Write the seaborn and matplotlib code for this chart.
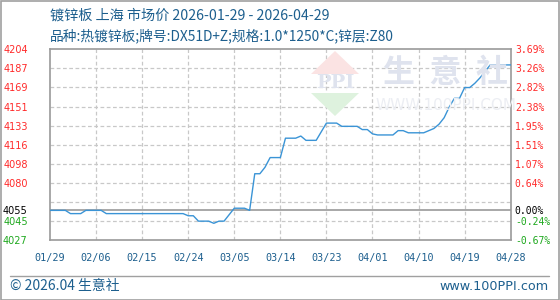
import numpy as np
import pandas as pd
import matplotlib
matplotlib.use("Agg")
import matplotlib.pyplot as plt
import seaborn as sns
from matplotlib.patches import Polygon, Rectangle
from matplotlib.lines import Line2D

# ---------------- data ----------------
# daily price index (day 0 = 2026-01-29 ... day 90 = 2026-04-29)
prices = [
    4055, 4055, 4055, 4055, 4052, 4052, 4052, 4055, 4055, 4055,   # 0-9
    4055, 4052, 4052, 4052, 4052, 4052, 4052, 4052, 4052, 4052,   # 10-19
    4052, 4052, 4052, 4052, 4052, 4052, 4052, 4050, 4050, 4045,   # 20-29
    4045, 4045, 4043, 4045, 4045, 4051, 4057, 4057, 4057, 4055,   # 30-39
    4089, 4089, 4095, 4104, 4104, 4104, 4122, 4122, 4122, 4124,   # 40-49
    4120, 4120, 4120, 4128, 4136, 4136, 4136, 4133, 4133, 4133,   # 50-59
    4133, 4130, 4130, 4126, 4125, 4125, 4125, 4125, 4129, 4129,   # 60-69
    4127, 4127, 4127, 4127, 4129, 4131, 4135, 4141, 4151, 4159,   # 70-79
    4159, 4169, 4169, 4173, 4178, 4184, 4190, 4190, 4190, 4190,   # 80-89
    4190,                                                         # 90
]
days = list(range(len(prices)))

x_tick_days = [0, 9, 18, 27, 36, 45, 54, 63, 72, 81, 90]
x_tick_labels = ["01/29", "02/06", "02/15", "02/24", "03/05", "03/14",
                 "03/23", "04/01", "04/10", "04/19", "04/28"]

base_price = 4055
y_low, y_high = 4027.5, 4204.5
left_labels = ["4027", "4045", "", "4080", "4098", "4116", "4133",
               "4151", "4169", "4187", "4204"]
right_labels = ["-0.67%", "-0.24%", "", "0.64%", "1.07%", "1.51%", "1.95%",
                "2.38%", "2.82%", "3.26%", "3.69%"]
base_left_label = "4055"
base_right_label = "0.00%"

title1 = "镀锌板 上海 市场价 2026-01-29 - 2026-04-29"
title2 = "品种:热镀锌板;牌号:DX51D+Z;规格:1.0*1250*C;锌层:Z80"
footer_left = "© 2026.04 生意社"
footer_right = "www.100PPI.com"

df = pd.DataFrame({"day": days, "price": prices})

# ---------------- styling ----------------
sns.set_theme(style="white")
plt.rcParams["font.family"] = ["Noto Sans CJK SC", "DejaVu Sans"]

W, H = 560, 300
fig = plt.figure(figsize=(W / 100, H / 100), dpi=100)
fig.patch.set_facecolor("white")

ax_l, ax_r, ax_t, ax_b = 50, 510.7, 49.3, 240
ax = fig.add_axes([ax_l / W, 1 - ax_b / H, (ax_r - ax_l) / W, (ax_b - ax_t) / H])
ax.set_facecolor("none")

TEXT_BLUE = "#1d5f8e"
RED = "#ff2a2a"
GREEN = "#1ea81e"
GRID = "#c8c8c8"
FRAME = "#9a9a9a"
LINE = "#3a94d6"

def fx(px):
    return px / W
def fy(py):
    return 1 - py / H

# ---------------- watermark (behind data) ----------------
wm_kw = dict(transform=fig.transFigure, zorder=0)
fig.patches.append(Polygon([(fx(311), fy(74)), (fx(335), fy(51)), (fx(359), fy(74))],
                           closed=True, facecolor="#fbe3e3", edgecolor="none", **wm_kw))
fig.patches.append(Polygon([(fx(311), fy(93)), (fx(335), fy(116)), (fx(359), fy(93))],
                           closed=True, facecolor="#def2de", edgecolor="none", **wm_kw))
fig.text(fx(335), fy(83), "PPI", ha="center", va="center", fontsize=14,
         fontweight="bold", color="#dfe3ee", family=["DejaVu Serif"], zorder=0)
fig.text(fx(446), fy(73), "生  意  社", ha="center", va="center", fontsize=23,
         fontweight="bold", color="#dfe3ee", zorder=0)
fig.text(fx(446), fy(106), "WWW.100PPI.COM", ha="center", va="center", fontsize=11,
         color="#eceef3", family=["DejaVu Sans"], zorder=0)

# ---------------- grid ----------------
grid_vals = np.linspace(y_low, y_high, 11)
ax.set_xlim(0, 90)
ax.set_ylim(y_low, y_high)
for gv in grid_vals[1:-1]:
    ax.axhline(gv, color=GRID, lw=0.9, ls=(0, (3, 2)), zorder=1)
for xd in x_tick_days[1:-1]:
    ax.axvline(xd, color=GRID, lw=0.9, ls=(0, (3, 2)), zorder=1)
ax.axhline(base_price, color=FRAME, lw=1.2, zorder=2)

# ---------------- line ----------------
sns.lineplot(data=df, x="day", y="price", ax=ax, color=LINE, lw=1.0, zorder=3)
ax.set_xlabel("")
ax.set_ylabel("")

# ---------------- axes / ticks ----------------
for s in ax.spines.values():
    s.set_color(FRAME)
    s.set_linewidth(1.2)

ax.set_xticks(x_tick_days)
ax.set_xticklabels(x_tick_labels, family=["DejaVu Sans Mono"], fontsize=7.3, color=TEXT_BLUE)
ax.tick_params(axis="x", length=0, pad=9)

idx = [0, 1, 3, 4, 5, 6, 7, 8, 9, 10]
yt = list(grid_vals[idx]) + [base_price]
yl = [left_labels[i] for i in idx] + [base_left_label]
ax.set_yticks(yt)
ax.set_yticklabels(yl, family=["DejaVu Sans"], fontsize=7)
ax.tick_params(axis="y", length=0, pad=16)
for t, v in zip(ax.get_yticklabels(), yt):
    t.set_color("black" if v == base_price else (RED if v > base_price else GREEN))

ax2 = ax.twinx()
ax2.set_ylim(y_low, y_high)
yr = [right_labels[i] for i in idx] + [base_right_label]
ax2.set_yticks(yt)
ax2.set_yticklabels(yr, family=["DejaVu Sans Mono"], fontsize=7)
ax2.tick_params(axis="y", length=0, pad=3)
for t, v in zip(ax2.get_yticklabels(), yt):
    t.set_color("black" if v == base_price else (RED if v > base_price else GREEN))
for s in ax2.spines.values():
    s.set_visible(False)

# ---------------- titles ----------------
fig.text(fx(50), fy(16), title1, ha="left", va="center", fontsize=10.2, color=TEXT_BLUE)
fig.text(fx(50), fy(36), title2, ha="left", va="center", fontsize=9.9, color=TEXT_BLUE)

# ---------------- footer ----------------
fig.lines.append(Line2D([fx(10), fx(549)], [fy(275.7), fy(275.7)], color="#a0a0a0",
                        lw=1.0, transform=fig.transFigure))
fig.text(fx(10), fy(286), footer_left, ha="left", va="center", fontsize=10, color=TEXT_BLUE)
fig.text(fx(549), fy(286), footer_right, ha="right", va="center", fontsize=9.2,
         color=TEXT_BLUE, family=["DejaVu Sans"])

# outer border
fig.patches.append(Rectangle((0.5 / W, 0.5 / H), (W - 1.5) / W, (H - 1.5) / H,
                             transform=fig.transFigure, fill=False,
                             edgecolor="#a0a0a0", lw=1.2))

fig.savefig("out.png", dpi=100)
